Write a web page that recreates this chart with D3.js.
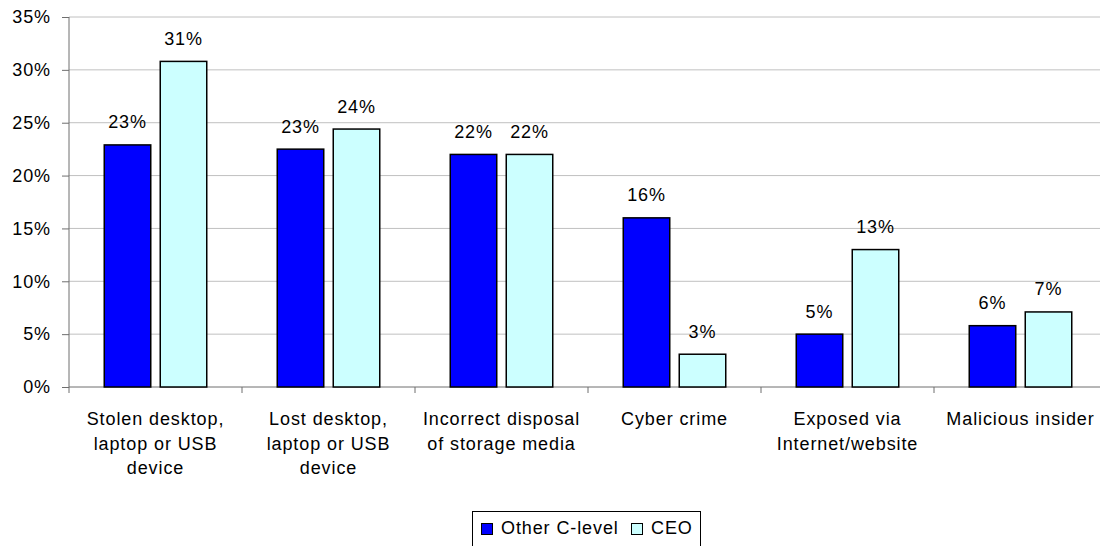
<!DOCTYPE html>
<html>
<head>
<meta charset="utf-8">
<script src="https://cdn.jsdelivr.net/npm/d3@7"></script>
<style>
  html, body { margin: 0; padding: 0; background: #fff; }
  svg { display: block; }
  text { font-family: "Liberation Sans", Arial, sans-serif; fill: #000; }
</style>
</head>
<body>
<svg id="chart" width="1100" height="546"></svg>
<script>
// Breach source categories (each entry is the list of wrapped label lines)
const categories = [
  ["Stolen desktop,", "laptop or USB", "device"],
  ["Lost desktop,", "laptop or USB", "device"],
  ["Incorrect disposal", "of storage media"],
  ["Cyber crime"],
  ["Exposed via", "Internet/website"],
  ["Malicious insider"]
];
const seriesNames = ["Other C-level", "CEO"];
const otherCLevel = [22.9, 22.5, 22.0, 16.0, 5.0, 5.8];
const ceo = [30.8, 24.4, 22.0, 3.1, 13.0, 7.1];
const yTicks = [0, 5, 10, 15, 20, 25, 30, 35];
const seriesColors = ["#0000ff", "#ccffff"];

const svg = d3.select("#chart");
const plotLeft = 69, plotRight = 1107, plotTop = 17, plotBottom = 387;
const fontSize = 18, spacing = "0.9px";

const catKeys = categories.map((c, i) => i);
const x0 = d3.scaleBand().domain(catKeys).range([plotLeft, plotRight]).padding(0);
const groupW = 104, barW = 48;
const x1 = d3.scaleBand().domain(seriesNames)
  .range([(x0.bandwidth() - groupW) / 2, (x0.bandwidth() + groupW) / 2])
  .paddingInner(2 - groupW / (barW + 8));
const y = d3.scaleLinear().domain([0, 35]).range([plotBottom, plotTop]);

// Horizontal gridlines
svg.append("g").selectAll("line").data(yTicks.filter(t => t > 0)).join("line")
  .attr("x1", plotLeft).attr("x2", 1100)
  .attr("y1", d => y(d)).attr("y2", d => y(d))
  .attr("stroke", "#c0c0c0").attr("stroke-width", 1);

// Y axis
const yAxis = svg.append("g").attr("transform", `translate(${plotLeft},0)`)
  .call(d3.axisLeft(y).tickValues(yTicks).tickFormat(d => d + "%").tickSize(7).tickPadding(11));
yAxis.select(".domain").remove();
yAxis.selectAll(".tick line").attr("stroke", "#6e6e6e");
yAxis.selectAll(".tick text")
  .style("font-family", '"Liberation Sans", Arial, sans-serif')
  .style("font-size", fontSize + "px").style("letter-spacing", spacing)
  .attr("fill", "#000");
svg.append("line").attr("x1", plotLeft).attr("x2", plotLeft).attr("y1", plotTop).attr("y2", plotBottom + 6)
  .attr("stroke", "#6e6e6e").attr("stroke-width", 1);

// X axis baseline and category ticks
svg.append("line").attr("x1", plotLeft).attr("x2", 1100).attr("y1", plotBottom).attr("y2", plotBottom)
  .attr("stroke", "#6e6e6e").attr("stroke-width", 1);
svg.append("g").selectAll("line").data(catKeys.slice(1)).join("line")
  .attr("x1", d => x0(d)).attr("x2", d => x0(d))
  .attr("y1", plotBottom).attr("y2", plotBottom + 6)
  .attr("stroke", "#6e6e6e");

// Category labels
const catLabels = svg.append("g").selectAll("text").data(categories).join("text")
  .attr("text-anchor", "middle")
  .style("font-size", fontSize + "px").style("letter-spacing", spacing)
  .attr("transform", (d, i) => `translate(${x0(i) + x0.bandwidth() / 2},425)`);
catLabels.selectAll("tspan").data(d => d).join("tspan")
  .attr("x", 0).attr("y", (d, j) => j * 24.5).text(d => d);

// Bars
const rows = categories.map((c, i) => [
  { key: seriesNames[0], value: otherCLevel[i], color: seriesColors[0] },
  { key: seriesNames[1], value: ceo[i], color: seriesColors[1] }
]);
const groups = svg.append("g").selectAll("g").data(rows).join("g")
  .attr("transform", (d, i) => `translate(${x0(i)},0)`);
groups.selectAll("rect").data(d => d).join("rect")
  .attr("x", d => x1(d.key) + 0.75)
  .attr("width", x1.bandwidth() - 1.5)
  .attr("y", d => y(d.value))
  .attr("height", d => y(0) - y(d.value))
  .attr("fill", d => d.color)
  .attr("stroke", "#000").attr("stroke-width", 1.5);
groups.selectAll("text").data(d => d).join("text")
  .attr("x", d => x1(d.key) + x1.bandwidth() / 2)
  .attr("y", d => y(d.value) - 16.5)
  .attr("text-anchor", "middle")
  .style("font-size", fontSize + "px").style("letter-spacing", spacing)
  .text(d => Math.round(d.value) + "%");

// Legend
const legend = svg.append("g").attr("transform", "translate(472,511)");
legend.append("rect").attr("x", 0.5).attr("y", 0.5).attr("width", 228).attr("height", 40)
  .attr("fill", "#fff").attr("stroke", "#000").attr("stroke-width", 1);
const legendX = [9, 159];
const items = legend.selectAll("g.item").data(seriesNames).join("g")
  .attr("class", "item")
  .attr("transform", (d, i) => `translate(${legendX[i]},0)`);
items.append("rect").attr("x", 0.5).attr("y", 12.5).attr("width", 11).attr("height", 11)
  .attr("fill", (d, i) => seriesColors[i]).attr("stroke", "#000").attr("stroke-width", 1);
items.append("text").attr("x", 20).attr("y", 23)
  .style("font-size", fontSize + "px").style("letter-spacing", spacing)
  .text(d => d);
</script>
</body>
</html>
